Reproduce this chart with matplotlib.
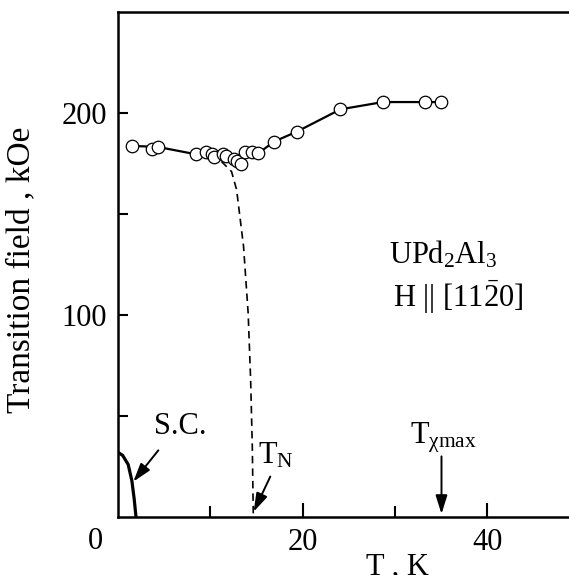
import matplotlib
matplotlib.use("Agg")
import matplotlib.pyplot as plt

plt.rcParams['font.family'] = ['Liberation Serif', 'DejaVu Serif']
plt.rcParams['mathtext.fontset'] = 'custom'
plt.rcParams['mathtext.rm'] = 'Liberation Serif'
plt.rcParams['mathtext.it'] = 'Liberation Serif:italic'

# measured transition field (open circles)
temp = [1.5, 3.7, 4.3, 8.5, 9.5, 10.2, 10.4, 11.4, 11.7, 12.6, 12.9, 13.3,
        13.8, 14.5, 15.2, 16.9, 19.4, 24.1, 28.7, 33.3, 35.0]
field = [183.7, 182.2, 183.2, 179.5, 180.8, 179.5, 178.2, 179.5, 178.5, 177.4,
         176.4, 174.8, 180.6, 180.5, 180.2, 185.8, 190.8, 201.8, 205.4, 205.4, 205.4]

# guide line through the points
line_t = [1.5, 4.3, 8.5, 11.0, 13.0, 15.2, 16.9, 19.4, 24.1, 28.7, 33.3, 35.0]
line_h = [183.7, 183.2, 179.5, 178.0, 177.0, 180.0, 185.8, 190.8, 201.8, 205.4, 205.4, 205.4]

# dashed phase boundary down to T_N
dash_t = [11.2, 12.3, 12.85, 13.6, 14.1, 14.37, 14.55, 14.66]
dash_h = [176, 171, 162, 134, 101, 68, 35, 0]

# superconducting upper critical field
sc_t = [0.0, 0.5, 1.1, 1.5, 1.75, 1.95]
sc_h = [32, 30.5, 26, 18, 9, 0]

fs = 22

fig = plt.figure(figsize=(5.69, 5.75), dpi=100)
ax = fig.add_axes([0.2074, 0.1009, 0.811, 0.8783])

ax.plot(line_t, line_h, color='black', lw=1.6, zorder=2)
ax.plot(temp, field, 'o', ms=9, mfc='white', mec='black', mew=0.9, zorder=3)
ax.plot(dash_t, dash_h, color='black', lw=1.2, ls=(0, (4.5, 3)), zorder=1)
ax.plot(sc_t, sc_h, color='black', lw=2.3, zorder=2)

ax.set_xlim(0, 50)
ax.set_ylim(0, 250)
ax.set_xticks([20, 40])
ax.set_xticks([10, 30], minor=True)
ax.set_yticks([100, 200])
ax.set_yticks([50, 150], minor=True)
ax.tick_params(axis='both', which='both', direction='in', width=1.5, labelsize=fs)
ax.tick_params(axis='x', which='major', length=10, pad=8)
ax.tick_params(axis='x', which='minor', length=8)
ax.tick_params(axis='y', which='both', length=7, pad=8)
ax.spines['right'].set_visible(False)
for s in ['left', 'bottom', 'top']:
    ax.spines[s].set_linewidth(1.8)

ax.text(-0.05, -0.02, '0', transform=ax.transAxes, fontsize=fs, ha='center', va='top')

ax.set_xlabel('T , K', fontsize=fs)
ax.xaxis.set_label_coords(0.606, -0.07)
ax.set_ylabel('Transition field , kOe', fontsize=24)
ax.yaxis.set_label_coords(-0.178, 0.489)

ax.text(29.4, 125.5, r'UPd$_\mathregular{2}$Al$_\mathregular{3}$', fontsize=fs, va='baseline')
ax.text(29.8, 104, r'H || [11$\bar{\mathregular{2}}$0]', fontsize=fs, va='baseline')

arrow = dict(arrowstyle='-|>,head_length=0.7,head_width=0.22', color='black', lw=1.4,
             mutation_scale=16, shrinkA=0, shrinkB=0)
ax.text(6.7, 45, 'S.C.', fontsize=fs, ha='center', va='center')
ax.annotate('', xy=(1.66, 17.5), xytext=(4.37, 33), arrowprops=arrow)
ax.text(15.15, 26.7, r'T$_\mathregular{N}$', fontsize=fs, va='baseline')
ax.annotate('', xy=(14.7, 2.6), xytext=(16.5, 20), arrowprops=arrow)
ax.text(31.6, 36.6, r'T$_\mathregular{χmax}$', fontsize=fs, va='baseline')
ax.annotate('', xy=(35.05, 1.5), xytext=(35.05, 30), arrowprops=arrow)

fig.savefig('out.png', dpi=100)
